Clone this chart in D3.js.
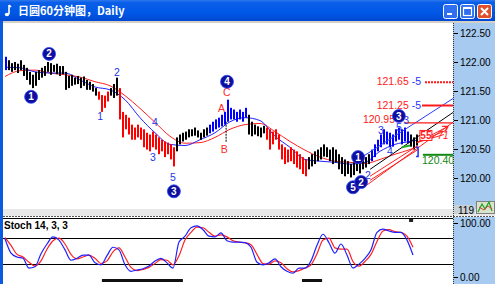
<!DOCTYPE html>
<html><head><meta charset="utf-8">
<script src="https://cdn.jsdelivr.net/npm/d3@7"></script>
<style>body{margin:0;background:#fff;overflow:hidden}svg{display:block}</style>
</head><body><svg id="c" width="495" height="284"></svg>
<script>
// ---------- DATA ----------
const highs = [122.09,122.03,121.98,122.00,121.97,122.03,121.95,121.90,121.83,121.78,
121.83,121.86,121.90,121.93,122.00,121.98,121.95,121.97,121.93,121.93,
121.83,121.76,121.78,121.73,121.76,121.73,121.75,121.69,121.66,121.62,
121.55,121.49,121.43,121.42,121.49,121.55,121.62,121.73,121.55,121.14,
121.09,121.04,120.92,120.87,120.92,120.87,120.84,120.78,120.75,120.80,
120.75,120.70,120.66,120.63,120.61,120.58,120.53,120.70,120.75,120.78,
120.80,120.84,120.84,120.87,120.82,120.78,120.84,120.87,120.92,120.97,
121.01,121.04,121.09,121.14,121.35,121.21,121.18,121.14,121.18,121.14,
121.21,121.09,120.97,120.92,120.89,120.87,120.90,120.87,120.84,120.80,
120.84,120.75,120.58,120.53,120.49,120.53,120.49,120.46,120.41,120.36,
120.32,120.36,120.41,120.46,120.49,120.53,120.58,120.53,120.49,120.53,
120.49,120.41,120.36,120.32,120.29,120.24,120.27,120.32,120.29,120.32,
120.36,120.41,120.49,120.58,120.66,120.75,120.84,120.80,120.78,120.75,
120.84,120.87,120.84,120.87,120.80,120.75,120.70,120.75];
const lows = [121.86,121.86,121.83,121.86,121.81,121.86,121.76,121.69,121.61,121.55,
121.59,121.69,121.73,121.76,121.83,121.78,121.83,121.79,121.76,121.79,
121.52,121.55,121.59,121.61,121.62,121.55,121.59,121.52,121.52,121.49,
121.42,121.35,121.14,121.21,121.32,121.42,121.38,121.42,121.01,120.70,
120.84,120.75,120.66,120.66,120.70,120.66,120.53,120.49,120.46,120.53,
120.49,120.41,120.46,120.36,120.41,120.32,120.20,120.46,120.58,120.63,
120.66,120.70,120.72,120.73,120.70,120.66,120.70,120.73,120.77,120.80,
120.84,120.87,120.89,120.92,120.97,121.01,121.01,120.97,121.01,120.97,
121.04,120.75,120.72,120.75,120.72,120.70,120.77,120.66,120.49,120.58,
120.66,120.49,120.32,120.24,120.27,120.29,120.24,120.18,120.15,120.07,
120.03,120.15,120.20,120.24,120.29,120.32,120.37,120.36,120.29,120.24,
120.27,120.15,120.07,120.03,120.07,120.01,120.05,120.12,120.08,120.15,
120.18,120.24,120.29,120.36,120.46,120.53,120.58,120.58,120.53,120.54,
120.63,120.66,120.58,120.63,120.60,120.54,120.49,120.56];
// wave colouring runs: [kind, number of bars]  u = up wave, d = down wave, n = neutral
const waveRuns = [["u",1],["n",30],["d",4],["n",3],["d",19],["n",11],["u",13],["n",6],["d",14],["n",21],["u",13],["n",3]];

const maIndex = [0,5,10,15,20,25,30,35,40,45,50,55,60,65,70,75,80,85,90,95,100,105,110,115,120,125,130,135,137];
const slowMA = [121.75,121.85,121.86,121.81,121.78,121.74,121.66,121.59,121.42,121.20,120.96,120.72,120.60,120.61,120.70,120.84,120.92,120.94,120.80,120.63,120.48,120.36,120.29,120.27,120.25,120.32,120.41,120.49,120.53];
const fastMA = [121.91,121.90,121.83,121.81,121.81,121.69,121.57,121.52,121.35,121.04,120.78,120.58,120.56,120.66,120.78,120.97,121.04,120.99,120.72,120.53,120.32,120.29,120.27,120.24,120.27,120.46,120.58,120.63,120.65];

const priceTicks = [120,120.5,121,121.5,122,122.5];
const cutTickLabel = "119";

// Stochastic (one value every 2 bars)
const stochK = [68,46,40,38,23,25,45,60,71,66,51,35,38,43,43,31,28,42,55,51,28,18,20,22,26,34,38,31,23,63,72,85,88,82,72,71,77,65,63,63,62,55,32,28,31,37,25,18,15,23,23,34,58,75,62,46,60,43,23,29,38,51,78,83,80,78,78,66,43];
const stochD = [70,58,44,40,32,26,34,52,65,69,60,44,37,40,43,38,30,34,48,54,40,24,19,21,24,30,36,35,28,42,66,78,86,85,78,72,74,71,65,63,62,59,44,30,29,34,31,22,17,19,23,28,45,66,69,54,52,52,33,26,33,44,64,80,82,79,78,72,55];
const stochLevels = [70,30];
const stochTicks = [100,0];

// Elliott-wave circles
const circleNums  = ["1","2","3","4","5","2","1","3"];
const circleIdx   = [8.7,14.7,56.3,74,116,118.7,117.7,131.3];
const circlePrice = [121.40,122.14,119.77,121.66,119.84,119.93,120.36,121.07];

// Small wave labels
const waveLabels = ["1","2","3","4","5","A","B","C","3","5","3","4","2"];
const waveIdx    = [31.7,37.3,49.3,50,56,72.2,73.1,73.9,125.3,131.3,133.7,128.3,121];
const wavePrice  = [121.06,121.83,120.36,120.96,120.01,121.20,120.49,121.48,120.83,120.87,120.99,120.46,120.05];
const waveGroup  = ["w","w","w","w","w","c","c","c","w","w","w","w","w"];

// Target levels
const levelPrices = [121.65,121.25,120.95,120.40];
const levelText   = ["121.65","121.25","120.95","120.40"];
const levelSuffix = ["-5","-5","",""];
const levelStart  = [140,139,133.3,139.3];
const levelLabelIdx = [134.6,134.6,130,139];
const levelKind   = ["dot","solid","thin","green"];

// Channel / trend lines [idx1, price1, idx2, price2]
const lineBlue   = [119.3,120.37,149.33,121.37];
const lineBlack  = [121.7,120.15,149.33,121.13];
const lineRedA   = [121.67,120.03,137.67,120.56];
const lineRedB   = [121.67,119.96,137.67,120.49];
const lineRedLow = [120.67,119.88,149.33,120.96];
const lineGreen  = [132.3,120.53,135,120.56];
const fanFrom = [137.3,120.61];
const fanTo   = [[147.7,120.89],[147,120.82],[146.3,120.75]];
const bLine   = [73.7,120.97,120.61];

// ---------- DRAW ----------
const svg = d3.select("#c");
const W = 495, H = 284;
const FONT = "'Liberation Sans',Arial,sans-serif";
const x = d3.scaleLinear().domain([0,137]).range([5,416]);
const y = d3.scaleLinear().domain([120,122.5]).range([178,33]);
const ys = d3.scaleLinear().domain([0,100]).range([283,218]);
const ysLab = d3.scaleLinear().domain([0,100]).range([277,223]);

const defs = svg.append("defs");
defs.append("clipPath").attr("id","mainClip").append("rect").attr("x",3).attr("y",23).attr("width",450).attr("height",186);
defs.append("clipPath").attr("id","axClip").append("rect").attr("x",453).attr("y",23).attr("width",42).attr("height",186);
defs.append("clipPath").attr("id","stClip").append("rect").attr("x",3).attr("y",218).attr("width",450).attr("height",66);
const tg = defs.append("linearGradient").attr("id","tb").attr("x1",0).attr("y1",0).attr("x2",0).attr("y2",1);
[[0,"#2f78ee"],[0.12,"#0a5fe8"],[0.6,"#0058e6"],[1,"#0048d2"]].forEach(s=>tg.append("stop").attr("offset",s[0]).attr("stop-color",s[1]));

svg.append("rect").attr("width",W).attr("height",H).attr("fill","#fff");

// title bar
svg.append("rect").attr("x",0).attr("y",0).attr("width",W).attr("height",21).attr("fill","url(#tb)");
svg.append("rect").attr("x",0).attr("y",21).attr("width",W).attr("height",2).attr("fill","#d4d0c8");
svg.append("rect").attr("x",0).attr("y",21).attr("width",3).attr("height",H-21).attr("fill","#0a5be0");
svg.append("path").attr("d","M9,5 L9,14 M9,5 L11,7").attr("stroke","#fff").attr("stroke-width",1.6).attr("fill","none");
svg.append("ellipse").attr("cx",7).attr("cy",14.5).attr("rx",2.2).attr("ry",1.7).attr("fill","#fff");
svg.append("text").attr("x",18).attr("y",15).attr("fill","#fff").attr("font-family","'Noto Sans CJK SC',sans-serif")
  .attr("font-weight","bold").attr("font-size",11).text("日圆60分钟图，Daily");
// buttons
const btn = svg.append("g");
btn.append("rect").attr("x",443.5).attr("y",4.5).attr("width",14).attr("height",14).attr("rx",2).attr("fill","#2f6ff0").attr("stroke","#fff");
btn.append("rect").attr("x",447).attr("y",13).attr("width",5).attr("height",2).attr("fill","#fff");
btn.append("rect").attr("x",460.5).attr("y",4.5).attr("width",14).attr("height",14).attr("rx",2).attr("fill","#2f6ff0").attr("stroke","#fff");
btn.append("rect").attr("x",463.5).attr("y",7.5).attr("width",8).attr("height",8).attr("fill","none").attr("stroke","#fff").attr("stroke-width",1.2);
btn.append("rect").attr("x",463.5).attr("y",7).attr("width",8).attr("height",2).attr("fill","#fff");
btn.append("rect").attr("x",477.5).attr("y",4.5).attr("width",14).attr("height",14).attr("rx",2).attr("fill","#e0502a").attr("stroke","#fff");
btn.append("path").attr("d","M481,8 L488,15 M488,8 L481,15").attr("stroke","#fff").attr("stroke-width",2);

// axis panels
svg.append("rect").attr("x",453).attr("y",23).attr("width",42).attr("height",186).attr("fill","#a6caf0");
svg.append("rect").attr("x",3).attr("y",209).attr("width",492).attr("height",7).attr("fill","#e8e8e8");
svg.append("rect").attr("x",453).attr("y",217).attr("width",42).attr("height",67).attr("fill","#a6caf0");

// main pane
const main = svg.append("g").attr("clip-path","url(#mainClip)");
const waveOf = [];
waveRuns.forEach(r=>{for(let k=0;k<r[1];k++) waveOf.push(r[0]);});
const barColor = {u:"#0000ff", d:"#ff0000", n:"#000000"};

// moving averages
const maLine = d3.line().x((d,i)=>x(maIndex[i])).y(d=>y(d)).curve(d3.curveMonotoneX);
main.append("path").attr("d",maLine(slowMA)).attr("fill","none").attr("stroke","#ff2020").attr("stroke-width",1);
main.append("path").attr("d",maLine(fastMA)).attr("fill","none").attr("stroke","#2020ff").attr("stroke-width",1);

// bars
main.selectAll("rect.bar").data(highs).join("rect").attr("class","bar")
  .attr("x",(d,i)=>Math.round(x(i))).attr("width",2)
  .attr("y",d=>y(d)).attr("height",(d,i)=>Math.max(1,y(lows[i])-y(d)))
  .attr("fill",(d,i)=>barColor[waveOf[i]]);
main.append("line").attr("x1",x(bLine[0])).attr("x2",x(bLine[0])).attr("y1",y(bLine[1])).attr("y2",y(bLine[2]))
  .attr("stroke","#000").attr("stroke-width",1).attr("stroke-dasharray","2,1");

// channel lines
function seg(a,color,w){
  main.append("line").attr("x1",x(a[0])).attr("y1",y(a[1])).attr("x2",x(a[2])).attr("y2",y(a[3]))
    .attr("stroke",color).attr("stroke-width",w);
}
seg(lineBlue,"#2a3cff",1);
seg(lineBlack,"#000",1);
seg(lineRedA,"#ff2020",1);
seg(lineRedB,"#ff2020",1);
seg(lineRedLow,"#ff2020",1);
seg(lineGreen,"#22aa22",2);
fanTo.forEach(t=>seg([fanFrom[0],fanFrom[1],t[0],t[1]],"#ff2020",1));
const tip = fanTo[0];
main.append("path").attr("d",`M${x(tip[0])},${y(tip[1])} l-6,0 M${x(tip[0])},${y(tip[1])} l-3,5`).attr("stroke","#ff2020").attr("stroke-width",1.4).attr("fill","none");
// small blue bracket
main.append("path").attr("d",`M${x(137.7)-2},${y(120.53)} h2 V${y(120.37)} h-2`).attr("stroke","#1a2cff").attr("stroke-width",1.5).attr("fill","none");

// target levels
levelPrices.forEach((p,k)=>{
  const kind = levelKind[k];
  const col = kind==="green" ? "#118811" : "#ff1a1a";
  const l = main.append("line").attr("x1",x(levelStart[k])).attr("x2",453).attr("y1",y(p)).attr("y2",y(p))
    .attr("stroke",col).attr("stroke-width",kind==="thin"?1.2:2);
  if(kind==="dot") l.attr("stroke-dasharray","2,1");
  const off = kind==="green" ? 9.5 : (kind==="thin" ? 0 : 3);
  main.append("text").attr("x",x(levelLabelIdx[k])).attr("y",y(p)+off)
    .attr("font-family",FONT).attr("font-size",10.5)
    .attr("fill",col).attr("text-anchor",kind==="green"?"start":"end").text(levelText[k]);
  if(levelSuffix[k]) main.append("text").attr("x",x(levelLabelIdx[k])+3).attr("y",y(p)+off)
    .attr("font-family",FONT).attr("font-size",10.5).attr("fill","#2233ff").text(levelSuffix[k]);
});
// 55 / 71 labels
main.append("rect").attr("x",x(138.3)).attr("y",y(120.82)).attr("width",12).attr("height",10).attr("fill","#fff").attr("stroke","#ff1a1a");
main.append("text").attr("x",x(138.3)+6).attr("y",y(120.82)+8.5).attr("text-anchor","middle").attr("font-family",FONT)
  .attr("font-size",10).attr("font-weight","bold").attr("fill","#ff1a1a").text("55");
main.append("text").attr("x",x(146)).attr("y",y(120.82)+9).attr("text-anchor","middle").attr("font-family",FONT)
  .attr("font-size",10).attr("font-style","italic").attr("fill","#ff1a1a").text("71");

// wave labels
main.selectAll("text.wl").data(waveLabels).join("text").attr("class","wl")
  .attr("x",(d,i)=>x(waveIdx[i])).attr("y",(d,i)=>y(wavePrice[i])).attr("dy","0.35em")
  .attr("text-anchor","middle").attr("font-family",FONT).attr("font-size",10.5)
  .attr("fill",(d,i)=>waveGroup[i]==="c"?"#ff2a2a":"#2438e8").text(d=>d);

// circles
const cg = main.selectAll("g.cir").data(circleNums).join("g").attr("class","cir")
  .attr("transform",(d,i)=>`translate(${x(circleIdx[i])},${y(circlePrice[i])})`);
cg.append("circle").attr("r",6.5).attr("fill","#0e0e9c").attr("stroke","#3048ff").attr("stroke-width",0.8);
cg.append("text").attr("dy","0.36em").attr("text-anchor","middle").attr("font-family",FONT)
  .attr("font-weight","bold").attr("font-size",10).attr("fill","#fff").text(d=>d);

// price axis
const ax = svg.append("g").attr("clip-path","url(#axClip)").append("g").attr("transform","translate(454,0)")
  .call(d3.axisRight(y).tickValues(priceTicks).tickSize(4).tickPadding(2).tickFormat(d3.format(".2f")));
ax.select(".domain").remove();
ax.selectAll("line").attr("stroke","#000");
ax.selectAll("text").attr("font-family",FONT).attr("font-size",10).attr("fill","#000");
svg.append("line").attr("x1",453.5).attr("x2",453.5).attr("y1",23).attr("y2",H).attr("stroke","#333").attr("stroke-dasharray","1,1");

// corner widgets
svg.append("rect").attr("x",454).attr("y",205).attr("width",21).attr("height",9).attr("fill","#c8d0d8");
svg.append("text").attr("x",458).attr("y",213.5).attr("font-family",FONT).attr("font-size",10).attr("fill","#000").text(cutTickLabel);
svg.append("rect").attr("x",476.5).attr("y",201.5).attr("width",18).attr("height",12).attr("fill","#d8e4cc").attr("stroke","#808080");
svg.append("path").attr("d","M478,212 l4,-8 l3,5 l4,-7 l3,9").attr("stroke","#20a020").attr("stroke-width",1.2).attr("fill","none");
svg.append("path").attr("d","M479,207 l5,3 l4,-4 l4,3").attr("stroke","#e04040").attr("stroke-width",1).attr("fill","none");

// stochastic pane
svg.append("line").attr("x1",3).attr("x2",W).attr("y1",216.5).attr("y2",216.5).attr("stroke","#555").attr("stroke-dasharray","2,1");
svg.append("line").attr("x1",3).attr("x2",453).attr("y1",218.5).attr("y2",218.5).attr("stroke","#000");
const st = svg.append("g").attr("clip-path","url(#stClip)");
st.selectAll("line.lv").data(stochLevels).join("line").attr("class","lv")
  .attr("x1",3).attr("x2",453).attr("y1",d=>Math.round(ys(d))+0.5).attr("y2",d=>Math.round(ys(d))+0.5).attr("stroke","#000");
const sLine = d3.line().x((d,i)=>x(i*2)).y(d=>ys(d)).curve(d3.curveMonotoneX);
st.append("path").attr("d",sLine(stochD)).attr("fill","none").attr("stroke","#ff2020").attr("stroke-width",1.2);
st.append("path").attr("d",sLine(stochK)).attr("fill","none").attr("stroke","#2020ff").attr("stroke-width",1.2);
svg.append("text").attr("x",4).attr("y",229).attr("font-family",FONT).attr("font-weight","bold")
  .attr("font-size",10).attr("fill","#000").text("Stoch 14, 3, 3");
const sax = svg.append("g").attr("transform","translate(454,0)")
  .call(d3.axisRight(ysLab).tickValues(stochTicks).tickSize(4).tickPadding(2).tickFormat(d3.format(".2f")));
sax.select(".domain").remove();
sax.selectAll("line").attr("stroke","#000");
sax.selectAll("text").attr("font-family",FONT).attr("font-size",10).attr("fill","#000");
// time-scroll markers
svg.append("rect").attr("x",x(32.3)).attr("y",279).attr("width",x(59.3)-x(32.3)).attr("height",3).attr("fill","#111");
svg.append("rect").attr("x",x(99)).attr("y",279).attr("width",x(105.7)-x(99)).attr("height",3).attr("fill","#111");
svg.append("rect").attr("x",x(134.7)).attr("y",219).attr("width",4).attr("height",3).attr("fill","#222");
</script></body></html>
